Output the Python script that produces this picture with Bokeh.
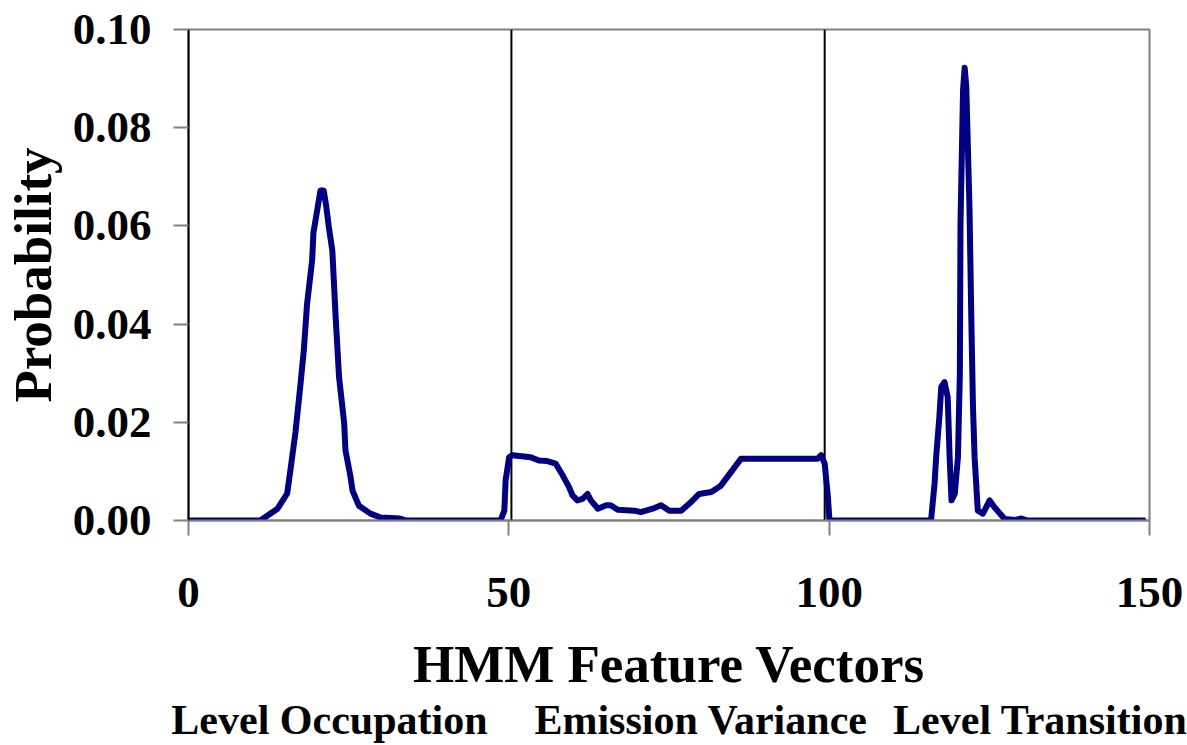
from bokeh.plotting import figure
from bokeh.models import Range1d, FixedTicker, NumeralTickFormatter, LinearAxis
from bokeh.embed import file_html
from bokeh.resources import INLINE

# ---- data ----
feature_x = [0, 11.2, 13.9, 15.4, 15.9, 16.7, 17.5, 18.0, 18.5, 19.3, 19.5, 20.1, 20.6, 21.1, 21.5,
             21.9, 22.45, 22.97, 23.5, 24.3, 24.5, 25.3, 25.6, 26.6, 28.4, 30.0, 33.0, 34.0,
             48.7, 49.3, 49.5, 50.05, 50.6, 53.4, 54.7, 56.0, 57.3, 58.4, 59.4, 59.95, 60.7, 61.5,
             62.3, 62.8, 63.9, 65.2, 65.9, 67.0, 69.6, 70.6, 72.45, 73.75, 75.05, 76.9, 78.4, 79.7,
             81.6, 83.1, 84.7, 86.25, 98.2, 98.75, 99.3, 99.8, 100.05,
             115.9, 116.45, 116.7, 117.2, 117.5, 118.0, 118.5, 118.8, 119.1, 119.6, 120.1, 120.4,
             120.5, 120.9, 121.15, 121.4, 121.9, 122.2, 122.45, 122.7, 123.2, 124.0, 125.05, 125.8,
             127.4, 129.0, 130.0, 131.0, 149.4]
probability = [0, 0, 0.0024, 0.0055, 0.0102, 0.018, 0.028, 0.0347, 0.044, 0.053, 0.0586, 0.0633, 0.0672, 0.0672, 0.064,
               0.0598, 0.055, 0.0414, 0.0292, 0.0198, 0.0143, 0.0088, 0.0061, 0.003, 0.0014, 0.0006, 0.0004, 0.0,
               0.0, 0.002, 0.0082, 0.0129, 0.0133, 0.0129, 0.0122, 0.0121, 0.0116, 0.0092, 0.0068, 0.0051, 0.0041, 0.0044,
               0.0054, 0.0041, 0.0024, 0.0031, 0.0031, 0.0022, 0.002, 0.0017, 0.0024, 0.0031, 0.002, 0.002, 0.0037, 0.0054,
               0.0058, 0.0071, 0.0099, 0.0126, 0.0126, 0.0133, 0.0116, 0.0048, 0.0,
               0.0, 0.0075, 0.0129, 0.0211, 0.0272, 0.0282, 0.0252, 0.0129, 0.0041, 0.0054, 0.0129, 0.030,
               0.0606, 0.0878, 0.0922, 0.0884, 0.0639, 0.0401, 0.0231, 0.0129, 0.002, 0.0014, 0.0041, 0.0027,
               0.0003, 0.0001, 0.0004, 0.0, 0.0]

x_ticks = [0, 50, 100, 150]
y_ticks = [0.0, 0.02, 0.04, 0.06, 0.08, 0.10]
separator_x = [50.4, 99.3]
section_names = ["Level Occupation", "Emission Variance", "Level Transition"]
section_centers = [22, 80, 135.3]

FONT = "Liberation Serif"

p = figure(width=1187, height=745, output_backend="svg", toolbar_location=None,
           x_range=Range1d(0, 150), y_range=Range1d(0, 0.1),
           min_border_left=188, min_border_top=29, min_border_right=38, min_border_bottom=225)
p.background_fill_color = "white"
p.border_fill_color = "white"
p.outline_line_color = "#808080"
p.outline_line_width = 2
p.xgrid.visible = False
p.ygrid.visible = False

for ax in (p.xaxis[0], p.yaxis[0]):
    ax.major_tick_in = 0
    ax.major_tick_out = 15
    ax.major_tick_line_color = "#808080"
    ax.major_tick_line_width = 2
    ax.minor_tick_line_color = None
    ax.major_label_text_font = FONT
    ax.major_label_text_font_style = "bold"
    ax.major_label_text_font_size = "45px"
    ax.major_label_text_color = "black"
    ax.axis_label_text_font = FONT
    ax.axis_label_text_font_style = "bold"
    ax.axis_label_text_color = "black"

p.xaxis.ticker = FixedTicker(ticks=x_ticks)
p.yaxis.ticker = FixedTicker(ticks=y_ticks)
p.yaxis.formatter = NumeralTickFormatter(format="0.00")
p.xaxis.axis_line_color = "#808080"
p.xaxis.axis_line_width = 2
p.yaxis.axis_line_color = "black"
p.yaxis.axis_line_width = 2

p.xaxis.axis_label = "HMM Feature Vectors"
p.xaxis.axis_label_text_font_size = "53px"
p.xaxis.major_label_standoff = 42
p.xaxis.axis_label_standoff = 25

p.yaxis.axis_label = "Probability"
p.yaxis.axis_label_text_font_size = "53px"
p.yaxis.major_label_standoff = 22
p.yaxis.axis_label_standoff = 8

# section names as a second, bare axis below
sec_axis = LinearAxis(ticker=FixedTicker(ticks=section_centers),
                      major_label_overrides={c: n for c, n in zip(section_centers, section_names)})
sec_axis.axis_line_color = None
sec_axis.major_tick_line_color = None
sec_axis.minor_tick_line_color = None
sec_axis.major_tick_in = 0
sec_axis.major_tick_out = 0
sec_axis.major_label_standoff = 1
sec_axis.major_label_text_font = FONT
sec_axis.major_label_text_font_style = "bold"
sec_axis.major_label_text_font_size = "42px"
sec_axis.major_label_text_color = "black"
p.add_layout(sec_axis, "below")

p.segment(x0=separator_x, y0=[0, 0], x1=separator_x, y1=[0.1, 0.1], line_color="black", line_width=2)
p.line(feature_x, probability, line_color="#000080", line_width=6, line_join="round")

open("out.html", "w").write(file_html(p, INLINE))
